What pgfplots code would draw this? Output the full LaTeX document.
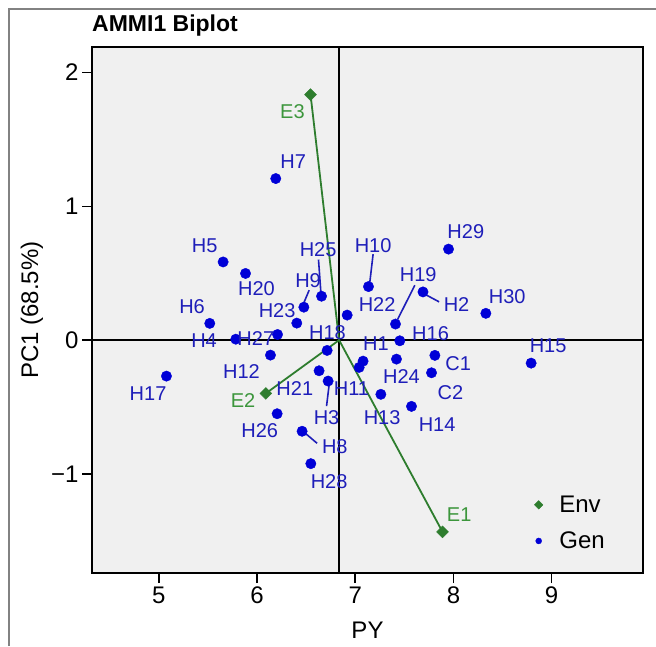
\documentclass[border=0pt]{standalone}
\usepackage{pgfplots}
\pgfplotsset{compat=1.18}
\usepackage{pgfplotstable}
\usepackage{fontspec}
\setmainfont{Liberation Sans}

\definecolor{bgc}{RGB}{240,240,240}
\definecolor{genblue}{RGB}{0,0,215}
\definecolor{labblue}{RGB}{30,30,185}
\definecolor{envgreen}{RGB}{46,125,46}
\definecolor{envlab}{RGB}{60,150,60}
\definecolor{framegray}{RGB}{130,130,130}

% genotype scores (mean PY, PC1)
\pgfplotstableread{
x      y       lab
7.080  -0.157  H1
7.690   0.360  H2
6.724  -0.306  H3
5.784   0.007  H4
5.655   0.584  H5
5.519   0.125  H6
6.191   1.207  H7
6.459  -0.681  H8
6.477   0.246  H9
7.135   0.400  H10
7.040  -0.204  H11
6.137  -0.112  H12
7.261  -0.405  H13
7.573  -0.495  H14
8.791  -0.172  H15
7.454  -0.005  H16
5.078  -0.269  H17
6.714  -0.077  H18
7.410   0.120  H19
5.883   0.498  H20
6.632  -0.229  H21
6.918   0.187  H22
6.405   0.127  H23
7.420  -0.142  H24
6.657   0.328  H25
6.205  -0.550  H26
6.209   0.042  H27
6.548  -0.923  H28
7.950   0.680  H29
8.330   0.200  H30
7.811  -0.114  C1
7.777  -0.244  C2
}\gen

% label positions
\pgfplotstableread{
x      y       lab
7.210  -0.025  H1
8.032   0.266  H2
6.708  -0.577  H3
5.461  -0.007  H4
5.468   0.709  H5
5.339   0.249  H6
6.368   1.331  H7
6.792  -0.796  H8
6.520   0.448  H9
7.182   0.709  H10
6.962  -0.361  H11
5.842  -0.236  H12
7.274  -0.577  H13
7.834  -0.629  H14
8.964  -0.045  H15
7.767   0.050  H16
4.891  -0.398  H17
6.718   0.057  H18
7.641   0.493  H19
5.995   0.386  H20
6.385  -0.361  H21
7.223   0.266  H22
6.205   0.224  H23
7.471  -0.269  H24
6.622   0.677  H25
6.028  -0.679  H26
5.988   0.013  H27
6.734  -1.057  H28
8.126   0.808  H29
8.547   0.323  H30
8.048  -0.174  C1
7.970  -0.393  C2
}\genlab

\pgfplotstableread{
x      y       lab
7.889  -1.433  E1
6.090  -0.398  E2
6.545   1.834  E3
}\env

\pgfplotstableread{
x      y       lab
8.058  -1.306  E1
5.858  -0.455  E2
6.361   1.704  E3
}\envlab

\begin{document}
\begin{tikzpicture}
\useasboundingbox (0,0) rectangle (656pt,646pt);
\draw[framegray, line width=1.3pt] (9pt,0) -- (9pt,637pt) -- (656pt,637pt);
\node[anchor=base west, inner sep=0pt, font=\fontsize{23}{23}\selectfont\bfseries] at (92pt,614.5pt) {AMMI1 Biplot};
\begin{axis}[
    at={(92pt,73pt)}, anchor=south west,
    width=551pt, height=526pt, scale only axis,
    xmin=4.32, xmax=9.93, ymin=-1.74, ymax=2.19,
    axis background/.style={fill=bgc},
    axis line style={line width=1.9pt},
    xtick={5,6,7,8,9}, xticklabels={5,6,7,8,9},
    ytick={-1,0,1,2}, yticklabels={−1,0,1,2},
    tick align=outside, tick pos=left, major tick length=10pt,
    tick style={black, line width=1.5pt},
    ticklabel style={font=\fontsize{24}{24}\selectfont},
    xlabel={PY}, ylabel={PC1 (68.5\%)},
    label style={font=\fontsize{24}{24}\selectfont},
    xlabel style={at={(axis description cs:0.5,-0.108)}, anchor=center},
    ylabel style={at={(axis description cs:-0.109,0.5)}, anchor=center},
    legend style={draw=none, fill=none, font=\fontsize{24}{24}\selectfont,
        at={(axis cs:9.17,-1.366)}, anchor=center, row sep=14pt},
    legend cell align=left,
    legend image code/.code={\path (0,0) (0.95cm,0);
        \draw[#1, mark size=3pt] plot coordinates {(0.3cm,0cm)};},
]
% reference lines
\addplot[black, line width=1.6pt, forget plot] coordinates {(6.836,-1.74) (6.836,2.19)};
\addplot[black, line width=1.6pt, forget plot] coordinates {(4.32,0) (9.93,0)};
% environment vectors
\addplot[envgreen, line width=1.8pt, forget plot] coordinates {(6.836,0) (7.889,-1.433)};
\addplot[envgreen, line width=1.8pt, forget plot] coordinates {(6.836,0) (6.090,-0.398)};
\addplot[envgreen, line width=1.8pt, forget plot] coordinates {(6.836,0) (6.545,1.834)};
% leader lines
\addplot[labblue, line width=1.6pt, forget plot] coordinates {(6.626,0.602) (6.650,0.360)};
\addplot[labblue, line width=1.6pt, forget plot] coordinates {(6.531,0.373) (6.477,0.279)};
\addplot[labblue, line width=1.6pt, forget plot] coordinates {(7.182,0.642) (7.149,0.435)};
\addplot[labblue, line width=1.6pt, forget plot] coordinates {(7.607,0.410) (7.431,0.154)};
\addplot[labblue, line width=1.6pt, forget plot] coordinates {(7.726,0.336) (7.854,0.286)};
\addplot[labblue, line width=1.6pt, forget plot] coordinates {(6.734,-0.336) (6.708,-0.493)};
\addplot[labblue, line width=1.6pt, forget plot] coordinates {(6.477,-0.687) (6.612,-0.771)};
% points
\addplot[only marks, mark=square*, mark size=4.2pt, mark options={rotate=45, fill=envgreen, draw=envgreen}] table[x=x, y=y] {\env};
\addlegendentry{Env}
\addplot[only marks, mark=*, mark size=5.2pt, mark options={fill=genblue, draw=genblue}] table[x=x, y=y] {\gen};
\addlegendentry{Gen}
% labels
\addplot[only marks, mark=none, forget plot, nodes near coords, point meta=explicit symbolic,
    every node near coord/.append style={anchor=center, inner sep=0pt, text=labblue, font=\fontsize{20}{20}\selectfont}]
    table[x=x, y=y, meta=lab] {\genlab};
\addplot[only marks, mark=none, forget plot, nodes near coords, point meta=explicit symbolic,
    every node near coord/.append style={anchor=center, inner sep=0pt, text=envlab, font=\fontsize{20}{20}\selectfont}]
    table[x=x, y=y, meta=lab] {\envlab};
\end{axis}
\end{tikzpicture}
\end{document}
